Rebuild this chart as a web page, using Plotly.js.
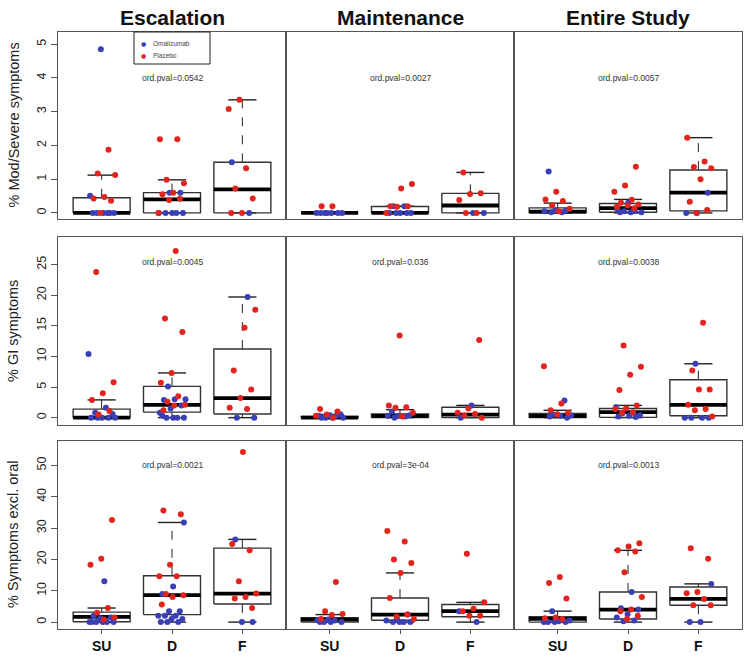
<!DOCTYPE html>
<html>
<head>
<meta charset="utf-8">
<script src="https://cdn.plot.ly/plotly-3.0.1.min.js"></script>
<style>html,body{margin:0;padding:0;background:#fff}#chart{width:750px;height:663px}</style>
</head>
<body>
<div id="chart"></div>
<script>
// ---------------- data ----------------
const categories = ["SU", "D", "F"];
const phases = ["Escalation", "Maintenance", "Entire Study"];
const measures = ["% Mod/Severe symptoms", "% GI symptoms", "% Symptoms excl. oral"];
const groupNames = ["Omalizumab", "Placebo"];
const pvals = [
  ["0.0542", "0.0027", "0.0057"],
  ["0.0045", "0.036", "0.0038"],
  ["0.0021", "3e-04", "0.0013"]
];
const yTicks = [[0,1,2,3,4,5],[0,5,10,15,20,25],[0,10,20,30,40,50]];

// box stats: [phase][category] = [lowWhisker, q1, median, q3, highWhisker]
const modBox = [
  [[0,0,0,0.45,1.12],[0,0,0.4,0.6,0.98],[0,0,0.7,1.5,3.35]],
  [[0,0,0,0,0],[0,0,0,0.19,0.2],[0,0,0.22,0.58,1.2]],
  [[0,0,0.04,0.15,0.29],[0,0.02,0.14,0.28,0.4],[0,0.06,0.6,1.27,2.23]]
];
const giBox = [
  [[0,0,0,1.4,2.9],[0,0.9,2.1,5.1,7.3],[0,0.6,3.2,11.2,19.7]],
  [[0,0,0,0.2,0.5],[0,0,0.3,0.6,1.3],[0,0,0.5,1.7,2.0]],
  [[0,0,0.3,0.7,1.2],[0,0.05,0.9,1.5,2.0],[0,0.3,2.1,6.2,8.8]]
];
const exclBox = [
  [[0,0.1,1.7,3.2,4.5],[0,2.4,8.6,14.8,31.8],[0,5.8,9.1,23.6,26.4]],
  [[0,0,0.8,1.4,2.4],[0,0.6,2.4,7.7,15.7],[0,1.7,3.5,5.6,6.3]],
  [[0,0,1.0,1.7,3.5],[0,1.0,4.0,9.6,22.9],[0,5.4,7.4,11.2,12.2]]
];

// individual subjects: [phase][category] = values
const modOma = [
  [[4.85,0.51,0,0,0,0,0,0],[0.6,0.6,0,0,0,0,0],[1.5,0]],
  [[0,0,0,0,0,0,0],[0.2,0.2,0,0,0,0,0],[0,0]],
  [[1.23,0.08,0.08,0.05,0.02,0.02],[0.3,0.1,0.05,0.05,0.02,0.02,0.02],[0.6,0,0]]
];
const modPla = [
  [[1.87,1.17,1.12,0.47,0.43,0.36,0],[2.18,2.18,0.98,0.88,0.6,0.55,0.42,0.38,0],[3.35,3.08,1.32,0.72,0.43,0,0]],
  [[0.2,0.2],[0.86,0.72,0.2,0.2,0.18,0],[1.2,0.58,0.56,0.38,0,0]],
  [[0.63,0.4,0.35,0.23,0.12,0.05],[1.37,0.81,0.63,0.39,0.3,0.25,0.22,0.18,0.14],[2.23,1.52,1.36,1.32,1.0,0.33,0.09,0]]
];
const giOma = [
  [[10.4,1.6,0.8,0.6,0,0,0,0,0],[5.1,3.0,3.0,2.9,2.0,1.5,0.8,0,0,0,0,0.3],[19.7,0,0]],
  [[0.5,0.4,0.3,0.3,0,0,0,0],[1.0,0.4,0.3,0.3,0.2,0],[2.0,0]],
  [[2.8,0.5,0.4,0.3,0.2,0],[1.7,0.8,0.7,0.4,0.3,0.2,0.1],[8.8,0,0,0,0]]
];
const giPla = [
  [[23.8,5.8,4.0,2.9,1.1,0.5],[27.2,16.2,14.0,7.3,5.7,3.5,2.6,2.1,2.0,1.2],[17.6,14.7,7.7,4.6,3.2,1.6,1.4]],
  [[1.4,1.0,0.5,0.3,0],[13.4,2.0,1.7,1.6,0.8,0.2],[12.7,1.5,0.8,0.6,0.4,0]],
  [[8.4,2.3,1.2,0.8,0.5],[11.8,8.3,7.0,4.5,2.0,1.5,1.4,0.9,0.8],[15.5,7.7,4.6,4.6,2.1,1.4,1.2,0.2]]
];
const exclOma = [
  [[13.0,2.0,1.5,1.2,0,0,0,0,0,0],[31.8,11.4,9.0,3.5,3.5,2.0,2.0,2.0,1.0,1.0,0,0,0],[26.4,0,0]],
  [[0.8,0.6,0.5,0,0,0,0],[2.4,1.0,0.5,0,0,0,0],[3.5,0]],
  [[3.5,0.5,0.3,0,0,0,0],[9.6,4.4,4.0,2.5,1.5,0.5,0.3],[12.2,0,0]]
];
const exclPla = [
  [[32.6,20.2,18.3,4.5,3.0,1.5,0.8],[35.6,34.4,18.3,14.6,14.6,9.0,8.6,8.0,5.6],[54.3,24.9,22.9,13.0,9.1,8.0,7.5,4.5]],
  [[12.8,3.5,2.6,2.3,1.0],[29.1,25.7,20.0,18.9,15.7,7.7,2.4,1.8,1.0],[21.8,6.3,4.3,3.5,2.0,2.0]],
  [[14.4,12.5,7.5,1.5,1.2,1.0],[25.2,24.1,22.9,22.5,15.9,8.0,4.0,3.5,2.0,1.0],[23.6,20.2,9.6,9.2,7.4,5.4,5.4]]
];

// ---------------- layout helpers ----------------
const boxes = [modBox, giBox, exclBox];
const omaPts = [modOma, giOma, exclOma];
const plaPts = [modPla, giPla, exclPla];
const yRanges = [[-0.18, 5.36], [-1.2, 29.5], [-2.2, 57.8]];
const W = 750, H = 663;
const colPx = [[58, 286], [286, 514], [514, 742]];
const rowPx = [[32, 219], [237, 425], [441, 629]];
const pvalY = [78, 262, 465];
const BLUE = "#3b3fb5", RED = "#e3241c";
const COLORS = [BLUE, RED];
const HALF = 0.405, CAP = 0.2, JIT = 0.2;
const FONT = "Liberation Sans, Arial, sans-serif";

const traces = [];
const layout = {
  width: W, height: H,
  margin: {l: 0, r: 0, t: 0, b: 0},
  paper_bgcolor: "#fff", plot_bgcolor: "#fff",
  showlegend: false,
  annotations: [],
  shapes: [],
  font: {family: FONT}
};

function jitter(i, g) {
  const f = ((i + 1) * 0.6180339887 + g * 0.2718) % 1;
  return (f - 0.5) * 2 * JIT;
}

for (let r = 0; r < 3; r++) {
  for (let c = 0; c < 3; c++) {
    const k = r * 3 + c + 1;
    const xa = "x" + k, ya = "y" + k;
    const xn = "xaxis" + (k === 1 ? "" : k), yn = "yaxis" + (k === 1 ? "" : k);
    layout[xn] = {
      domain: [colPx[c][0] / W, colPx[c][1] / W],
      range: [0.38, 3.62], anchor: ya,
      showgrid: false, zeroline: false,
      showline: true, mirror: true, linecolor: "#555", linewidth: 1,
      tickvals: [1, 2, 3], ticktext: categories,
      showticklabels: r === 2, ticks: r === 2 ? "outside" : "", ticklen: 4, tickcolor: "#555",
      tickfont: {family: FONT, size: 14, weight: "bold", color: "#111"}
    };
    layout[yn] = {
      domain: [1 - rowPx[r][1] / H, 1 - rowPx[r][0] / H],
      range: yRanges[r], anchor: xa,
      showgrid: false, zeroline: false,
      showline: true, mirror: true, linecolor: "#555", linewidth: 1,
      tickvals: yTicks[r], showticklabels: c === 0,
      ticks: c === 0 ? "outside" : "", ticklen: 6, tickcolor: "#555", tickangle: -90,
      tickfont: {family: FONT, size: 12.5, color: "#222"}
    };

    // box drawing
    const st = boxes[r][c];
    const rx = [], ry = [], mx = [], my = [], wx = [], wy = [], cx = [], cy = [];
    st.forEach((s, j) => {
      const p = j + 1, [lo, q1, med, q3, hi] = s;
      rx.push(p - HALF, p + HALF, p + HALF, p - HALF, p - HALF, null);
      ry.push(q1, q1, q3, q3, q1, null);
      mx.push(p - HALF, p + HALF, null); my.push(med, med, null);
      if (hi > q3) { wx.push(p, p, null); wy.push(q3, hi, null); }
      if (lo < q1) { wx.push(p, p, null); wy.push(q1, lo, null); }
      cx.push(p - CAP, p + CAP, null, p - CAP, p + CAP, null);
      cy.push(hi, hi, null, lo, lo, null);
    });
    const lineT = (x, y, w, dash, col) => ({
      type: "scatter", mode: "lines", x: x, y: y, xaxis: xa, yaxis: ya,
      line: {color: col, width: w, dash: dash}, hoverinfo: "skip", showlegend: false, connectgaps: false
    });
    traces.push(lineT(wx, wy, 1, "dash", "#222"));
    traces.push(lineT(cx, cy, 1.4, "solid", "#222"));
    traces.push(lineT(rx, ry, 1.4, "solid", "#333"));
    traces.push(lineT(mx, my, 3.8, "solid", "#000"));

    // points
    [omaPts, plaPts].forEach((src, g) => {
      const px = [], py = [];
      src[r][c].forEach((vals, j) => {
        vals.forEach((v, i) => { px.push(j + 1 + jitter(i + j * 7 + k * 3, g)); py.push(v); });
      });
      traces.push({
        type: "scatter", mode: "markers", x: px, y: py, xaxis: xa, yaxis: ya,
        name: groupNames[g], showlegend: false,
        marker: {color: COLORS[g], size: 6, line: {width: 0}}, hoverinfo: "y"
      });
    });

    layout.annotations.push({
      xref: xa, yref: "paper", x: 2, y: 1 - pvalY[r] / H,
      xanchor: "center", yanchor: "middle",
      text: "ord.pval=" + pvals[r][c], showarrow: false,
      font: {size: 8.5, color: "#333", family: FONT}
    });
  }
}

// compact legend box inside the first panel
layout.shapes.push({
  type: "rect", xref: "paper", yref: "paper",
  x0: 134 / W, x1: 210 / W, y0: 1 - 64 / H, y1: 1 - 32 / H,
  line: {color: "#222", width: 1}, fillcolor: "rgba(255,255,255,0)"
});
groupNames.forEach((nm, g) => {
  const yy = 1 - (44 + g * 11) / H;
  layout.annotations.push({
    xref: "paper", yref: "paper", x: 143 / W, y: yy, xanchor: "center", yanchor: "middle",
    text: "●", showarrow: false, font: {size: 6, color: COLORS[g], family: "DejaVu Sans"}
  });
  layout.annotations.push({
    xref: "paper", yref: "paper", x: 151 / W, y: yy, xanchor: "left", yanchor: "middle",
    text: nm, showarrow: false, font: {size: 6.5, color: "#444", family: FONT}
  });
});

phases.forEach((p, c) => {
  layout.annotations.push({
    xref: "paper", yref: "paper", x: (colPx[c][0] + colPx[c][1]) / 2 / W, y: 1 - 17 / H,
    xanchor: "center", yanchor: "middle",
    text: "<b>" + p + "</b>", showarrow: false,
    font: {size: 21, color: "#111", family: FONT}
  });
});
measures.forEach((m, r) => {
  layout.annotations.push({
    xref: "paper", yref: "paper", x: 13 / W, y: 1 - (rowPx[r][0] + rowPx[r][1]) / 2 / H,
    xanchor: "center", yanchor: "middle",
    text: m, textangle: -90, showarrow: false,
    font: {size: 14.5, color: "#222", family: FONT}
  });
});

Plotly.newPlot("chart", traces, layout, {displayModeBar: false, staticPlot: true});
</script>
</body>
</html>
